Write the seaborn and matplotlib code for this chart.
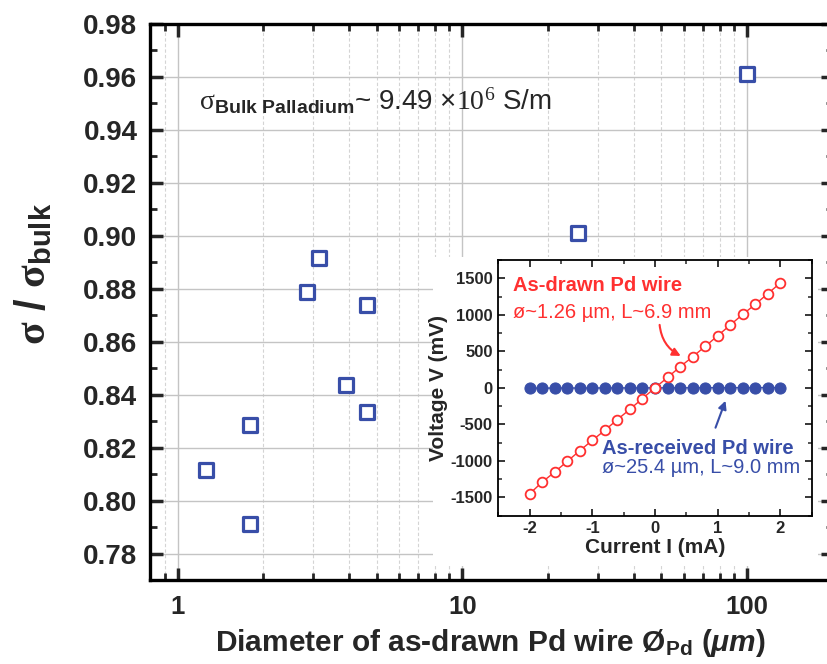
import matplotlib
matplotlib.use("Agg")
import matplotlib.pyplot as plt
import matplotlib.ticker as mticker
from matplotlib.patches import Rectangle
import seaborn as sns
import pandas as pd

# main panel: normalised conductivity vs wire diameter
diameter_um = [1.26, 1.8, 1.8, 2.85, 3.14, 3.9, 4.62, 4.62, 25.4, 100]
sigma_ratio = [0.8114, 0.8287, 0.791, 0.8789, 0.8918, 0.8435, 0.8737, 0.8335, 0.901, 0.961]

# inset: I-V curves
current_ma = [-2.0, -1.8, -1.6, -1.4, -1.2, -1.0, -0.8, -0.6, -0.4, -0.2, 0.0,
              0.2, 0.4, 0.6, 0.8, 1.0, 1.2, 1.4, 1.6, 1.8, 2.0]
v_drawn_mv = [-1450, -1290, -1152, -1006, -860, -718, -581, -434, -293, -146, 0,
              142, 288, 425, 567, 713, 860, 1006, 1143, 1290, 1436]
v_received_mv = [-3.7, -3.4, -3.0, -2.6, -2.2, -1.9, -1.5, -1.1, -0.7, -0.4, 0.0,
                 0.4, 0.7, 1.1, 1.5, 1.9, 2.2, 2.6, 3.0, 3.4, 3.7]

BLUE = "#384ea8"
RED = "#ff3030"

sns.set_theme(style="ticks")
plt.rcParams["font.family"] = ["Liberation Sans", "DejaVu Sans"]
plt.rcParams["mathtext.fontset"] = "custom"
plt.rcParams["mathtext.rm"] = "Liberation Sans"
plt.rcParams["mathtext.it"] = "Liberation Sans:italic"
plt.rcParams["mathtext.bf"] = "Liberation Sans:bold"
plt.rcParams["mathtext.bfit"] = "Liberation Sans:bold:italic"
plt.rcParams["mathtext.sf"] = "Liberation Serif"        # serif sigma / 10^6
plt.rcParams["mathtext.tt"] = "Liberation Serif:bold"   # bold serif sigma
plt.rcParams["mathtext.default"] = "regular"

fig = plt.figure(figsize=(8.28, 6.64), dpi=100)
W, H = 828, 664

# main axes placed in pixel units
left, right, top, bottom = 150, 832.9, 24, 580
ax = fig.add_axes([left / W, 1 - bottom / H, (right - left) / W, (bottom - top) / H])

main_df = pd.DataFrame({"d": diameter_um, "s": sigma_ratio})
sns.scatterplot(data=main_df, x="d", y="s", ax=ax, marker="s", s=90,
                facecolor="white", edgecolor=BLUE, linewidth=2.3, zorder=3)

ax.set_xscale("log")
ax.set_xlim(0.8, 200)
ax.set_ylim(0.77, 0.98)
ax.xaxis.set_major_locator(mticker.FixedLocator([1, 10, 100]))
ax.xaxis.set_major_formatter(mticker.FixedFormatter(["1", "10", "100"]))
ax.xaxis.set_minor_locator(mticker.LogLocator(base=10, subs=range(2, 10), numticks=20))
ax.xaxis.set_minor_formatter(mticker.NullFormatter())
ax.yaxis.set_major_locator(mticker.MultipleLocator(0.02))
ax.yaxis.set_minor_locator(mticker.MultipleLocator(0.01))
ax.yaxis.set_major_formatter(mticker.FormatStrFormatter("%.2f"))

ax.set_axisbelow(True)
ax.grid(which="major", color="#c4c4c4", linewidth=1.0, linestyle="-")
ax.grid(which="minor", axis="x", color="#d4d4d4", linewidth=0.8, linestyle=(0, (3, 2)))

ax.tick_params(which="both", direction="in", top=True, right=True)
ax.tick_params(which="major", length=9, width=2.5)
ax.tick_params(axis="y", which="major", labelsize=20, pad=9)
ax.tick_params(axis="x", which="major", labelsize=18.5, pad=11)
ax.tick_params(which="minor", length=5, width=2.0)
for lab in ax.get_xticklabels() + ax.get_yticklabels():
    lab.set_fontweight("bold")
for sp in ax.spines.values():
    sp.set_linewidth(2.4)
    sp.set_color("black")

ax.set_xlabel("Diameter of as-drawn Pd wire Ø$_{\\mathbf{Pd}}$ ($\\mathbfit{\\mu m}$)",
              fontsize=21.5, fontweight="bold")
ax.xaxis.set_label_coords(0.499, -0.085)
ax.set_ylabel("$\\mathtt{\\sigma}$ / $\\mathtt{\\sigma}_{\\mathbf{bulk}}$",
              fontsize=30, fontweight="bold")
ax.yaxis.set_label_coords(-0.1405, 0.55)

ax.text(1.19, 0.9475, "$\\mathsf{\\sigma}_{\\mathbf{Bulk\\ Palladium}}$~ 9.49 ×$\\mathsf{10^{6}}$ S/m",
        fontsize=20, va="baseline", ha="left", zorder=4)

# white pad behind the inset
ax.add_patch(Rectangle((433 / W, 1 - 566 / H), (818 - 433) / W, (566 - 257) / H,
                       transform=fig.transFigure, facecolor="white", edgecolor="none",
                       zorder=1.5, clip_on=False))

# inset axes
il, ir, it_, ib = 498.3, 811.7, 260, 515.7
axi = fig.add_axes([il / W, 1 - ib / H, (ir - il) / W, (ib - it_) / H])
axi.set_facecolor("white")

iv_df = pd.DataFrame({"I": current_ma, "drawn": v_drawn_mv, "received": v_received_mv})
sns.lineplot(data=iv_df, x="I", y="received", ax=axi, color=BLUE, linewidth=1.0,
             marker="o", markersize=8, markerfacecolor=BLUE, markeredgecolor=BLUE)
sns.lineplot(data=iv_df, x="I", y="drawn", ax=axi, color=RED, linewidth=1.0,
             marker="o", markersize=7, markerfacecolor="white", markeredgecolor=RED,
             markeredgewidth=1.3)

axi.set_xlim(-2.5, 2.5)
axi.set_ylim(-1750, 1750)
axi.xaxis.set_major_locator(mticker.MultipleLocator(1))
axi.xaxis.set_minor_locator(mticker.MultipleLocator(0.5))
axi.yaxis.set_major_locator(mticker.MultipleLocator(500))
axi.yaxis.set_minor_locator(mticker.MultipleLocator(250))
axi.xaxis.set_major_formatter(mticker.FormatStrFormatter("%d"))
axi.yaxis.set_major_formatter(mticker.FormatStrFormatter("%d"))
axi.tick_params(which="both", direction="in", top=True, right=True)
axi.tick_params(which="major", length=5, width=1.3, labelsize=12, pad=4)
axi.tick_params(which="minor", length=3, width=1.1)
for lab in axi.get_xticklabels() + axi.get_yticklabels():
    lab.set_fontweight("bold")
for sp in axi.spines.values():
    sp.set_linewidth(1.3)
    sp.set_color("black")
axi.set_xlabel("Current I (mA)", fontsize=15, fontweight="bold", labelpad=1)
axi.set_ylabel("Voltage V (mV)", fontsize=15, fontweight="bold", labelpad=2)

axi.text(-2.27, 1397, "As-drawn Pd wire", color=RED, fontsize=14.5,
         fontweight="bold", va="center", ha="left")
axi.text(-2.27, 1030, "ø~1.26 µm, L~6.9 mm", color=RED, fontsize=14.5,
         va="center", ha="left")
axi.text(-0.84, -828, "As-received Pd wire", color=BLUE, fontsize=14.5,
         fontweight="bold", va="center", ha="left")
axi.text(-0.84, -1089, "ø~25.4 µm, L~9.0 mm", color=BLUE, fontsize=14.5,
         va="center", ha="left")

axi.annotate("", xy=(0.45, 420), xytext=(0.07, 900),
             arrowprops=dict(arrowstyle="-|>", color=RED, lw=1.5,
                             connectionstyle="arc3,rad=0.3", mutation_scale=12))
axi.annotate("", xy=(1.14, -141), xytext=(0.95, -581),
             arrowprops=dict(arrowstyle="-|>", color=BLUE, lw=1.5, mutation_scale=12))

fig.savefig("out.png", dpi=100)
